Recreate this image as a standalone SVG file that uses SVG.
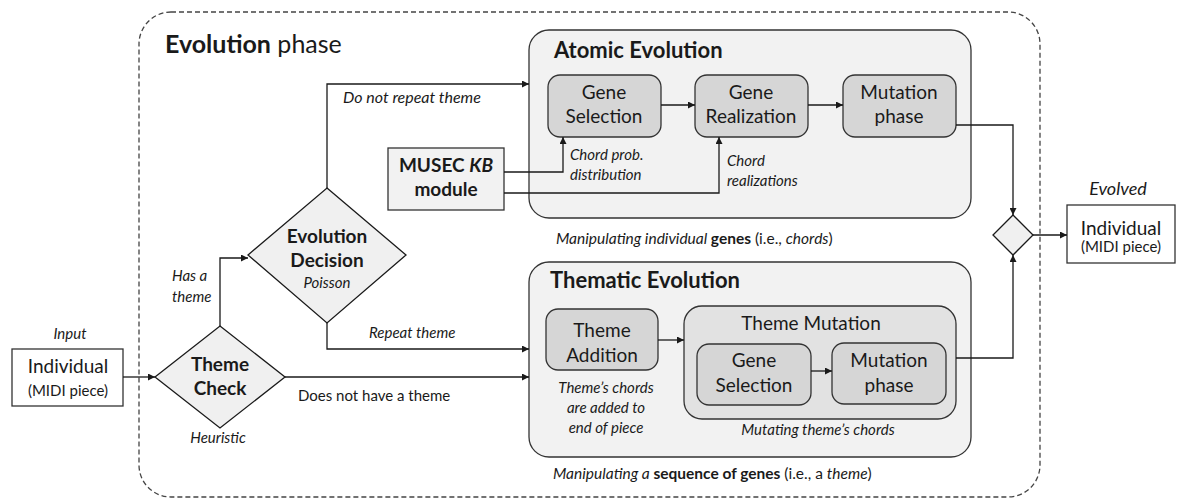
<svg xmlns="http://www.w3.org/2000/svg" width="1177" height="498" viewBox="0 0 1177 498">
<style>
text{font-family:Lato,"Open Sans","Liberation Sans",sans-serif;fill:#1a1a1a}
.c{text-anchor:middle}
.b{font-weight:bold}
.i{font-style:italic}
.box{fill:#f2f2f2;stroke:#333;stroke-width:1.3}
.inner{fill:#d6d6d6;stroke:#333;stroke-width:1.3}
.mid{fill:#e2e2e2;stroke:#333;stroke-width:1.3}
.dia{fill:#f0f0f0;stroke:#1a1a1a;stroke-width:1.3}
.ln{fill:none;stroke:#1a1a1a;stroke-width:1.3;marker-end:url(#ah)}
.t19{font-size:19px}
.t15{font-size:15px}
.t14{font-size:15.5px}
</style>
<defs>
<marker id="ah" viewBox="0 0 10 10" refX="10" refY="5" markerWidth="7" markerHeight="7" markerUnits="userSpaceOnUse" orient="auto">
<path d="M0,0 L10,5 L0,10 z" fill="#1a1a1a"/>
</marker>
</defs>
<rect id="phase" x="139" y="12" width="901" height="485" rx="32" fill="none" stroke="#444" stroke-width="1.3" stroke-dasharray="5,3"/>
<text x="165" y="53" style="font-size:25px"><tspan class="b">Evolution</tspan> phase</text>

<g id="atomic">
<rect class="box" x="529" y="30" width="442" height="188" rx="20"/>
<text class="b" x="554" y="58" style="font-size:22px">Atomic Evolution</text>
<text class="i t14" x="556" y="244">Manipulating individual <tspan class="b" style="font-style:normal">genes</tspan><tspan style="font-style:normal"> (i.e., </tspan>chords<tspan style="font-style:normal">)</tspan></text>
</g>
<g id="gene-selection">
<rect class="inner" x="548" y="75" width="113" height="62" rx="12"/>
<text class="c t19" x="604" y="99">Gene</text>
<text class="c t19" x="604" y="123">Selection</text>
</g>
<g id="gene-realization">
<rect class="inner" x="695" y="75" width="113" height="62" rx="12"/>
<text class="c t19" x="751" y="99">Gene</text>
<text class="c t19" x="751" y="123">Realization</text>
</g>
<g id="mutation-phase-a">
<rect class="inner" x="843" y="75" width="113" height="62" rx="12"/>
<text class="c t19" x="899" y="99">Mutation</text>
<text class="c t19" x="899" y="123">phase</text>
</g>
<g id="musec">
<rect class="box" x="388" y="148" width="116" height="62"/>
<text class="c b t19" x="446" y="172">MUSEC <tspan class="i">KB</tspan></text>
<text class="c b t19" x="446" y="196">module</text>
</g>

<g id="thematic">
<rect class="box" x="529" y="262" width="442" height="195" rx="20"/>
<text class="b" x="550" y="288" style="font-size:22px">Thematic Evolution</text>
<text class="i t14" x="553" y="479">Manipulating a <tspan class="b" style="font-style:normal">sequence  of genes</tspan><tspan style="font-style:normal"> (i.e., a </tspan>theme<tspan style="font-style:normal">)</tspan></text>
</g>
<g id="theme-addition">
<rect class="inner" x="546" y="309" width="112" height="61" rx="12"/>
<text class="c t19" x="602" y="337">Theme</text>
<text class="c t19" x="602" y="362">Addition</text>
<text class="c i t15" x="606" y="393">Theme’s chords</text>
<text class="c i t15" x="606" y="413">are added to</text>
<text class="c i t15" x="606" y="433">end of piece</text>
</g>
<g id="theme-mutation">
<rect class="mid" x="684" y="306" width="272" height="113" rx="18"/>
<text class="c t19" x="811" y="330">Theme Mutation</text>
<text class="c i t15" x="818" y="435">Mutating theme’s chords</text>
</g>
<g id="gene-selection-t">
<rect class="inner" x="697" y="344" width="114" height="61" rx="12"/>
<text class="c t19" x="754" y="367">Gene</text>
<text class="c t19" x="754" y="392">Selection</text>
</g>
<g id="mutation-phase-t">
<rect class="inner" x="832" y="343" width="114" height="61" rx="12"/>
<text class="c t19" x="889" y="367">Mutation</text>
<text class="c t19" x="889" y="392">phase</text>
</g>

<g id="evolution-decision">
<polygon class="dia" points="327,188 406,255 327,323 248,255"/>
<text class="c b t19" x="327" y="243">Evolution</text>
<text class="c b t19" x="327" y="267">Decision</text>
<text class="c i t15" x="327" y="288">Poisson</text>
</g>
<g id="theme-check">
<polygon class="dia" points="220,326 285,377 220,428 155,377"/>
<text class="c b t19" x="220" y="371">Theme</text>
<text class="c b t19" x="220" y="395">Check</text>
<text class="c i t15" x="218" y="443">Heuristic</text>
</g>
<g id="input">
<rect x="12" y="349" width="111" height="57" fill="#fff" stroke="#333" stroke-width="1.3"/>
<text class="c i t15" x="70" y="339">Input</text>
<text class="c t19" x="68" y="373">Individual</text>
<text class="c t15" x="68" y="396">(MIDI piece)</text>
</g>
<g id="merge">
<polygon class="dia" points="1013,215 1033,235 1013,255 993,235"/>
</g>
<g id="output">
<rect x="1067" y="205" width="108" height="58" fill="#fff" stroke="#333" stroke-width="1.3"/>
<text class="c i" x="1118" y="195" style="font-size:18px">Evolved</text>
<text class="c t19" x="1121" y="235">Individual</text>
<text class="c t15" x="1121" y="252">(MIDI piece)</text>
</g>

<g id="connectors">
<path class="ln" d="M123,377 H155"/>
<path class="ln" d="M220,326 V258 H248"/>
<path class="ln" d="M327,188 V84 H529"/>
<path class="ln" d="M327,323 V349 H529"/>
<path class="ln" d="M285,377 H529"/>
<path class="ln" d="M661,105 H695"/>
<path class="ln" d="M808,105 H843"/>
<path class="ln" d="M504,172 H563 V137"/>
<path class="ln" d="M504,193 H719 V137"/>
<path class="ln" d="M658,340 H684"/>
<path class="ln" d="M811,371 H832"/>
<path class="ln" d="M956,125 H1013 V215"/>
<path class="ln" d="M956,358 H1013 V255"/>
<path class="ln" d="M1033,235 H1067"/>
<text class="i" x="343" y="103" style="font-size:16px">Do not repeat theme</text>
<text class="i t15" x="570" y="160">Chord prob.</text>
<text class="i t15" x="570" y="180">distribution</text>
<text class="i t15" x="727" y="166">Chord</text>
<text class="i t15" x="727" y="186">realizations</text>
<text class="i t15" x="172" y="281">Has a</text>
<text class="i t15" x="172" y="302">theme</text>
<text class="i t15" x="369" y="338">Repeat theme</text>
<text class="t15" x="298" y="401">Does not have a theme</text>
</g>
</svg>
